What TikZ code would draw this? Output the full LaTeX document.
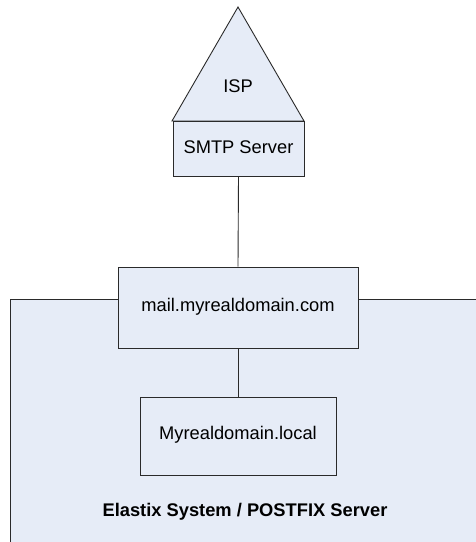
\documentclass[tikz,border=0pt]{standalone}
\usepackage{fontspec}
\setmainfont{Liberation Sans}
\definecolor{boxfill}{HTML}{E6ECF7}
\definecolor{edge}{HTML}{2A2A2A}
\begin{document}
\begin{tikzpicture}[x=1pt,y=-1pt,
  shapebox/.style={draw=edge,fill=boxfill,line width=0.9pt,rectangle,inner sep=0pt},
  lbl/.style={font=\fontsize{18.3}{20}\selectfont,inner sep=0pt},
  conn/.style={draw=edge,line width=0.9pt}]
\useasboundingbox (0,0) rectangle (476,542);
\clip (0,0) rectangle (476,542);
% outer system area
\path[shapebox] (10,299) rectangle (490,560);
\node[lbl,font=\fontsize{18.3}{20}\selectfont\bfseries] (sys) at (245,512) {Elastix System / POSTFIX Server};
% ISP triangle
\coordinate (apex) at (238,7);
\coordinate (bl) at (172,121);
\coordinate (br) at (304,121);
\path[shapebox] (apex) -- (br) -- (bl) -- cycle;
\node[lbl] (isp) at (238,86) {ISP};
% boxes
\node[shapebox,minimum width=131pt,minimum height=55pt] (smtp) at (238.5,148.5) {};
\node[lbl] (smtpt) at (238.5,147) {SMTP Server};
\node[shapebox,minimum width=240pt,minimum height=81pt] (mail) at (238,307.5) {};
\node[lbl] (mailt) at (238,307) {mail.myrealdomain.com};
\node[shapebox,minimum width=196pt,minimum height=78pt] (local) at (238,436) {};
\node[lbl] (localt) at (238,435) {Myrealdomain.local};
% connectors
\draw[conn] (smtp.south) -- (mail.north);
\draw[conn] (mail.south) -- (local.north);
\end{tikzpicture}
\end{document}
